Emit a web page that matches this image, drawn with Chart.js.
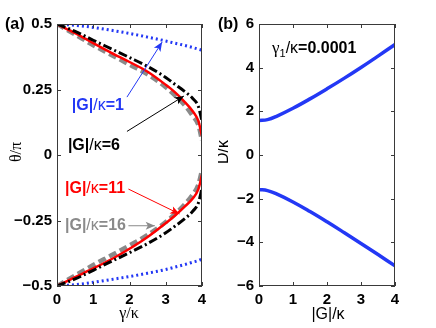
<!DOCTYPE html>
<html>
<head>
<meta charset="utf-8">
<script src="https://cdn.jsdelivr.net/npm/chart.js@4.4.0/dist/chart.umd.min.js"></script>
<style>
  body { margin: 0; background: #fff; }
  #wrap { position: relative; width: 436px; height: 328px; }
  canvas { position: absolute; top: 0; }
  #chartA { left: 0; }
  #chartB { left: 218px; }
</style>
</head>
<body>
<div id="wrap">
  <canvas id="chartA" width="218" height="328"></canvas>
  <canvas id="chartB" width="218" height="328"></canvas>
</div>
<script>
/* ===== DATA: panel (a) ===== */
const gammaVals = [0, 0.5, 1, 1.5, 2, 2.5, 3, 3.25, 3.5, 3.75, 3.9, 4];

const thetaG1Up    = [0.5, 0.495, 0.487, 0.476, 0.464, 0.45, 0.435, 0.427, 0.419, 0.41, 0.404, 0.40];
const thetaG1Down  = [-0.5, -0.495, -0.486, -0.475, -0.464, -0.451, -0.437, -0.428, -0.419, -0.409, -0.403, -0.397];
const thetaG6Up    = [0.5, 0.472, 0.438, 0.405, 0.372, 0.338, 0.296, 0.27, 0.245, 0.215, 0.185, 0.13];
const thetaG6Down  = [-0.5, -0.473, -0.44, -0.406, -0.373, -0.338, -0.297, -0.272, -0.246, -0.214, -0.183, -0.127];
const thetaG11Up   = [0.5, 0.465, 0.427, 0.39, 0.355, 0.318, 0.268, 0.24, 0.206, 0.166, 0.13, 0.072];
const thetaG11Down = [-0.5, -0.466, -0.433, -0.398, -0.358, -0.313, -0.26, -0.232, -0.2, -0.165, -0.13, -0.076];
const thetaG16Up   = [0.5, 0.46, 0.419, 0.382, 0.345, 0.308, 0.259, 0.228, 0.194, 0.148, 0.115, 0.055];
const thetaG16Down = [-0.5, -0.46, -0.42, -0.383, -0.345, -0.305, -0.256, -0.226, -0.192, -0.15, -0.113, -0.058];

const thetaTicks = [-0.5, -0.25, 0, 0.25, 0.5];
const gammaTicks = [0, 1, 2, 3, 4];

/* ===== DATA: panel (b) ===== */
const gVals  = [0, 0.25, 0.5, 1, 1.5, 2, 2.5, 3, 3.5, 4];
const dUp    = [1.58, 1.62, 1.76, 2.14, 2.57, 3.03, 3.51, 4.01, 4.53, 5.06];
const dDown  = [-1.58, -1.63, -1.77, -2.15, -2.59, -3.06, -3.55, -4.05, -4.56, -5.08];
const dTicks = [-6, -4, -2, 0, 2, 4, 6];
const gTicks = [0, 1, 2, 3, 4];

/* ===== styles ===== */
const BLUE = '#2338f5';
const GRAY = '#8a8a8a';
const SANS = "'Liberation Sans', Arial, Helvetica, sans-serif";
const SERIF = "'Liberation Serif', 'DejaVu Serif', serif";
const tickFont = { family: SANS, size: 15, weight: 'bold' };

function pts(xs, ys) {
    return xs.map((x, i) => ({ x: x, y: ys[i] }));
}

function fmt(v) {
    return v < 0 ? '\u2212' + Math.abs(v) : String(v);
}

// mixed font text, parts = [[text, font, color, dy], ...]
function richText(ctx, parts, x, y, align) {
    let w = 0;
    parts.forEach(p => { ctx.font = p[1]; w += ctx.measureText(p[0]).width; });
    let cx = align === 'center' ? x - w / 2 : x;
    ctx.textBaseline = 'middle';
    ctx.textAlign = 'left';
    parts.forEach(p => {
        ctx.font = p[1];
        ctx.fillStyle = p[2];
        ctx.fillText(p[0], cx, y + (p[3] || 0));
        cx += ctx.measureText(p[0]).width;
    });
}

function arrow(ctx, x1, y1, x2, y2, color) {
    const a = Math.atan2(y2 - y1, x2 - x1);
    ctx.save();
    ctx.strokeStyle = color;
    ctx.fillStyle = color;
    ctx.lineWidth = 1;
    ctx.beginPath();
    ctx.moveTo(x1, y1);
    ctx.lineTo(x2, y2);
    ctx.stroke();
    ctx.beginPath();
    ctx.moveTo(x2, y2);
    ctx.lineTo(x2 - 10 * Math.cos(a - 0.4), y2 - 10 * Math.sin(a - 0.4));
    ctx.lineTo(x2 - 7 * Math.cos(a), y2 - 7 * Math.sin(a));
    ctx.lineTo(x2 - 10 * Math.cos(a + 0.4), y2 - 10 * Math.sin(a + 0.4));
    ctx.closePath();
    ctx.fill();
    ctx.restore();
}

// box around plot + inward ticks on all sides (matlab look)
function boxPlugin(xTicks, yTicks) {
    return {
        id: 'box',
        afterDatasetsDraw(chart) {
            const ctx = chart.ctx;
            const a = chart.chartArea;
            const sx = chart.scales.x, sy = chart.scales.y;
            ctx.save();
            ctx.strokeStyle = '#3a3a3a';
            ctx.lineWidth = 1;
            ctx.strokeRect(a.left + 0.5, a.top + 0.5, a.right - a.left - 1, a.bottom - a.top - 1);
            ctx.beginPath();
            xTicks.forEach(v => {
                const x = Math.round(sx.getPixelForValue(v)) + 0.5;
                ctx.moveTo(x, a.bottom); ctx.lineTo(x, a.bottom - 4);
                ctx.moveTo(x, a.top); ctx.lineTo(x, a.top + 4);
            });
            yTicks.forEach(v => {
                const y = Math.round(sy.getPixelForValue(v)) + 0.5;
                ctx.moveTo(a.left, y); ctx.lineTo(a.left + 4, y);
                ctx.moveTo(a.right, y); ctx.lineTo(a.right - 4, y);
            });
            ctx.stroke();
            ctx.restore();
        }
    };
}

function axisOpts(min, max, ticksArr, size, isX) {
    return {
        type: 'linear',
        min: min,
        max: max,
        grid: { display: false, drawTicks: false },
        border: { display: false },
        afterBuildTicks: s => { s.ticks = ticksArr.map(v => ({ value: v })); },
        afterFit: s => { if (isX) s.height = size; else s.width = size; },
        ticks: { color: '#000', font: tickFont, padding: 5, callback: fmt }
    };
}

/* ===== annotations panel (a), in data units ===== */
const notesA = [
    { label: '1',  color: BLUE,   tx: 0.41, ty: 0.19,  ax: 1.93, ay: 0.221, bx: 2.90, by: 0.431 },
    { label: '6',  color: '#000', tx: 0.30, ty: 0.035, ax: 1.93, ay: 0.09,  bx: 3.50, by: 0.225 },
    { label: '11', color: '#ff0000', tx: 0.22, ty: -0.13, ax: 1.97, ay: -0.13, bx: 3.38, by: -0.225 },
    { label: '16', color: GRAY,   tx: 0.22, ty: -0.27, ax: 1.97, ay: -0.27, bx: 2.70, by: -0.27 }
];

const labelsA = {
    id: 'labelsA',
    afterDraw(chart) {
        const ctx = chart.ctx;
        const sx = chart.scales.x, sy = chart.scales.y;
        ctx.save();
        notesA.forEach(n => {
            arrow(ctx, sx.getPixelForValue(n.ax), sy.getPixelForValue(n.ay),
                  sx.getPixelForValue(n.bx), sy.getPixelForValue(n.by), n.color);
            richText(ctx, [
                ['|G|', 'bold 16px ' + SANS, n.color],
                ['/\u03ba', '16px ' + SANS, n.color],
                ['=' + n.label, 'bold 16px ' + SANS, n.color]
            ], sx.getPixelForValue(n.tx), sy.getPixelForValue(n.ty), 'left');
        });
        richText(ctx, [['(a)', 'bold 16px ' + SANS, '#000']], 5, 25, 'left');
        richText(ctx, [['\u03b3/\u03ba', '16px ' + SERIF, '#000']], 129, 314, 'center');
        ctx.translate(17, 152);
        ctx.rotate(-Math.PI / 2);
        richText(ctx, [['\u03b8/\u03c0', '16px ' + SERIF, '#000']], 0, 0, 'center');
        ctx.restore();
    }
};

const labelsB = {
    id: 'labelsB',
    afterDraw(chart) {
        const ctx = chart.ctx;
        ctx.save();
        richText(ctx, [['(b)', 'bold 16px ' + SANS, '#000']], 0, 25, 'left');
        richText(ctx, [
            ['\u03b3', '17px ' + SERIF, '#000'],
            ['1', '11px ' + SANS, '#000', 5],
            ['/\u03ba', '16px ' + SANS, '#000'],
            ['=0.0001', 'bold 16px ' + SANS, '#000']
        ], 54, 49, 'left');
        richText(ctx, [['|G|/\u03ba', '16px ' + SANS, '#000']], 110, 315, 'center');
        ctx.translate(6, 152);
        ctx.rotate(-Math.PI / 2);
        richText(ctx, [['D/\u03ba', '16px ' + SANS, '#000']], 0, 0, 'center');
        ctx.restore();
    }
};

function lineSet(data, color, width, dash, order, smooth) {
    return {
        data: data,
        showLine: true,
        borderColor: color,
        backgroundColor: color,
        borderWidth: width,
        borderDash: dash,
        borderCapStyle: 'butt',
        pointRadius: 0,
        cubicInterpolationMode: smooth ? 'default' : 'monotone',
        tension: 0.4,
        order: order
    };
}

/* ===== Chart (a) ===== */
new Chart(document.getElementById('chartA'), {
    type: 'scatter',
    data: {
        datasets: [
            lineSet(pts(gammaVals, thetaG1Up), BLUE, 3, [2, 3], 4),
            lineSet(pts(gammaVals, thetaG1Down), BLUE, 3, [2, 3], 4),
            lineSet(pts(gammaVals, thetaG16Up), GRAY, 4.5, [8, 4], 3),
            lineSet(pts(gammaVals, thetaG16Down), GRAY, 4.5, [8, 4], 3),
            lineSet(pts(gammaVals, thetaG11Up), '#ff0000', 2.5, [], 2),
            lineSet(pts(gammaVals, thetaG11Down), '#ff0000', 2.5, [], 2),
            lineSet(pts(gammaVals, thetaG6Up), '#000', 3, [9, 3, 2, 3], 1),
            lineSet(pts(gammaVals, thetaG6Down), '#000', 3, [9, 3, 2, 3], 1)
        ]
    },
    options: {
        responsive: false,
        animation: false,
        layout: { padding: { top: 24, right: 16, left: 0, bottom: 0 } },
        plugins: { legend: { display: false }, tooltip: { enabled: false } },
        scales: {
            x: axisOpts(0, 4, gammaTicks, 42, true),
            y: axisOpts(-0.5, 0.5, thetaTicks, 57, false)
        }
    },
    plugins: [boxPlugin(gammaTicks, thetaTicks), labelsA]
});

/* ===== Chart (b) ===== */
new Chart(document.getElementById('chartB'), {
    type: 'scatter',
    data: {
        datasets: [
            lineSet(pts(gVals, dUp), BLUE, 3.5, [], 1, true),
            lineSet(pts(gVals, dDown), BLUE, 3.5, [], 1, true)
        ]
    },
    options: {
        responsive: false,
        animation: false,
        layout: { padding: { top: 24, right: 41, left: 0, bottom: 0 } },
        plugins: { legend: { display: false }, tooltip: { enabled: false } },
        scales: {
            x: axisOpts(0, 4, gTicks, 42, true),
            y: axisOpts(-6, 6, dTicks, 41, false)
        }
    },
    plugins: [boxPlugin(gTicks, dTicks), labelsB]
});
</script>
</body>
</html>
